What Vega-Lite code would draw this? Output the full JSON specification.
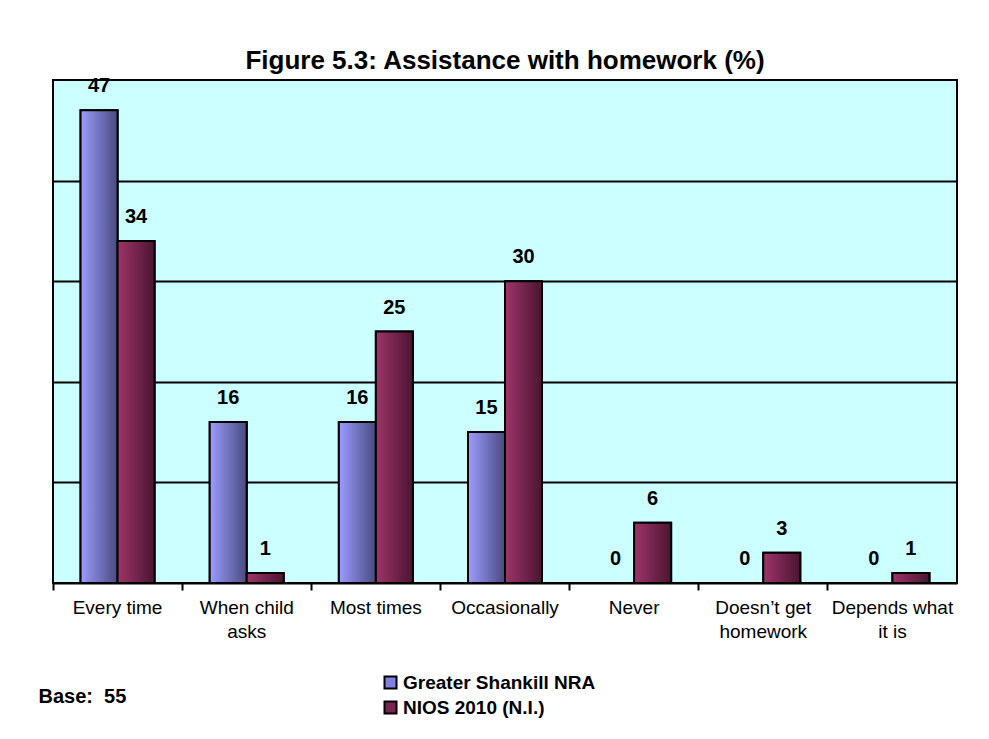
{
  "$schema": "https://vega.github.io/schema/vega-lite/v6.json",
  "autosize": {"type": "none"},
  "width": 904,
  "height": 503,
  "padding": {"left": 53, "top": 80, "right": 32, "bottom": 156},
  "background": "white",
  "config": {
    "font": "Liberation Sans",
    "view": {"fill": "#CCFFFF", "stroke": "#000000", "strokeWidth": 2}
  },
  "title": {
    "text": "Figure 5.3: Assistance with homework (%)",
    "font": "Liberation Sans",
    "fontSize": 26,
    "fontWeight": "bold",
    "color": "#000000",
    "anchor": "middle",
    "offset": 2
  },
  "data": {
    "values": [
      {"category": "Every time", "series": "Greater Shankill NRA", "value": 47},
      {"category": "Every time", "series": "NIOS 2010 (N.I.)", "value": 34},
      {"category": "When child asks", "series": "Greater Shankill NRA", "value": 16},
      {"category": "When child asks", "series": "NIOS 2010 (N.I.)", "value": 1},
      {"category": "Most times", "series": "Greater Shankill NRA", "value": 16},
      {"category": "Most times", "series": "NIOS 2010 (N.I.)", "value": 25},
      {"category": "Occasionally", "series": "Greater Shankill NRA", "value": 15},
      {"category": "Occasionally", "series": "NIOS 2010 (N.I.)", "value": 30},
      {"category": "Never", "series": "Greater Shankill NRA", "value": 0},
      {"category": "Never", "series": "NIOS 2010 (N.I.)", "value": 6},
      {"category": "Doesn’t get homework", "series": "Greater Shankill NRA", "value": 0},
      {"category": "Doesn’t get homework", "series": "NIOS 2010 (N.I.)", "value": 3},
      {"category": "Depends what it is", "series": "Greater Shankill NRA", "value": 0},
      {"category": "Depends what it is", "series": "NIOS 2010 (N.I.)", "value": 1}
    ]
  },
  "encoding": {
    "x": {
      "field": "category",
      "type": "nominal",
      "sort": null,
      "scale": {"paddingInner": 0, "paddingOuter": 0},
      "axis": {
        "title": "Base:\u00a0\u00a055",
        "titleFont": "Liberation Sans",
        "titleFontSize": 20,
        "titleFontWeight": "bold",
        "titleColor": "#000000",
        "titleAnchor": "start",
        "titleAlign": "left",
        "titleBaseline": "middle",
        "titleX": -15,
        "titleY": 113,
        "labelAngle": 0,
        "labelFont": "Liberation Sans",
        "labelFontSize": 19,
        "labelColor": "#000000",
        "labelPadding": 8,
        "labelLineHeight": 24,
        "labelBaseline": "top",
        "labelLimit": 200,
        "labelExpr": "datum.value == 'When child asks' ? ['When child', 'asks'] : datum.value == 'Doesn’t get homework' ? ['Doesn’t get', 'homework'] : datum.value == 'Depends what it is' ? ['Depends what', 'it is'] : datum.value",
        "bandPosition": 0,
        "ticks": true,
        "tickColor": "#000000",
        "tickWidth": 2,
        "tickSize": 7,
        "domainColor": "#000000",
        "domainWidth": 2,
        "grid": false
      }
    },
    "xOffset": {
      "field": "series",
      "type": "nominal",
      "scale": {"paddingInner": 0, "paddingOuter": 0.745}
    },
    "y": {
      "field": "value",
      "type": "quantitative",
      "scale": {"domain": [0, 50], "nice": false},
      "axis": {
        "title": null,
        "labels": false,
        "ticks": false,
        "domain": false,
        "values": [10, 20, 30, 40],
        "grid": true,
        "gridColor": "#000000",
        "gridWidth": 2,
        "gridOpacity": 1
      }
    }
  },
  "layer": [
    {
      "mark": {"type": "bar", "stroke": "#000000", "strokeWidth": 2},
      "encoding": {
        "fill": {
          "field": "series",
          "type": "nominal",
          "scale": {
            "domain": ["Greater Shankill NRA", "NIOS 2010 (N.I.)"],
            "range": ["#8080E0", "#7A2550"]
          },
          "legend": {
            "title": null,
            "orient": "none",
            "legendX": 328,
            "legendY": 593,
            "direction": "vertical",
            "symbolType": "square",
            "symbolSize": 144,
            "symbolStrokeColor": "#000000",
            "symbolStrokeWidth": 2,
            "symbolOpacity": 1,
            "labelFont": "Liberation Sans",
            "labelFontSize": 19,
            "labelFontWeight": "bold",
            "labelColor": "#000000",
            "labelOffset": 3,
            "labelLimit": 400,
            "rowPadding": 4
          }
        }
      }
    },
    {
      "mark": {"type": "bar", "stroke": "#000000", "strokeWidth": 2},
      "encoding": {
        "fill": {
          "condition": {
            "test": "datum.series == 'Greater Shankill NRA'",
            "value": {"gradient": "linear", "x1": 0, "y1": 0, "x2": 1, "y2": 0, "stops": [{"offset": 0, "color": "#9C9CFF"}, {"offset": 1, "color": "#4A4A80"}]}
          },
          "value": {"gradient": "linear", "x1": 0, "y1": 0, "x2": 1, "y2": 0, "stops": [{"offset": 0, "color": "#9E3569"}, {"offset": 1, "color": "#4A1530"}]}
        }
      }
    },
    {
      "mark": {"type": "text", "font": "Liberation Sans", "fontSize": 20, "fontWeight": "bold", "color": "#000000", "baseline": "middle", "dy": -24},
      "encoding": {
        "text": {"field": "value", "type": "quantitative"}
      }
    }
  ]
}
